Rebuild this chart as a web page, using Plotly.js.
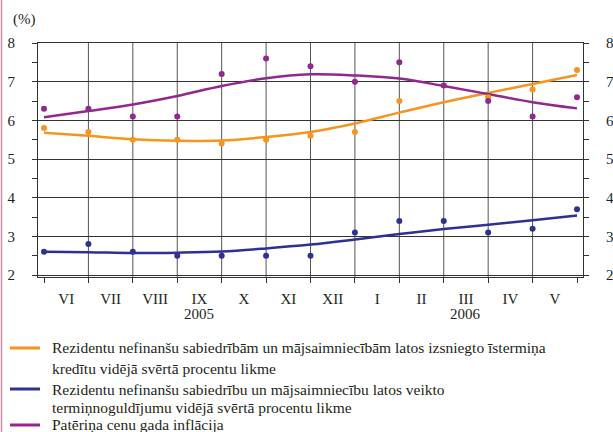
<!DOCTYPE html>
<html>
<head>
<meta charset="utf-8">
<script src="https://cdn.plot.ly/plotly-3.0.1.min.js"></script>
<style>html,body{margin:0;padding:0;background:#fff;}#chart{width:613px;height:432px;}</style>
</head>
<body>
<div id="chart"></div>
<script>
// Month labels (June 2005 – May 2006)
var months = ['VI','VII','VIII','IX','X','XI','XII','I','II','III','IV','V'];
var monthCenters = [0.5,1.5,2.5,3.5,4.5,5.5,6.5,7.5,8.5,9.5,10.5,11.5];
var boundaries = [0,1,2,3,4,5,6,7,8,9,10,11,12];
var innerBoundaries = [1,2,3,4,5,6,7,8,9,10,11];
var years = ['2005','2006'];
var yearCenters = [3.5, 9.5];
var obsX = [0,1,2,3,4,5,6,7,8,9,10,11,12];

// Observed values (%)
var loanRate    = [5.8,5.7,5.5,5.5,5.4,5.5,5.6,5.7,6.5,null,6.6,6.8,7.3];
var depositRate = [2.6,2.8,2.6,2.5,2.5,2.5,2.5,3.1,3.4,3.4,3.1,3.2,3.7];
var inflation   = [6.3,6.3,6.1,6.1,7.2,7.6,7.4,7.0,7.5,6.9,6.5,6.1,6.6];

// Smoothed trends (%)
var loanTrend    = [5.68,5.60,5.51,5.47,5.48,5.57,5.70,5.92,6.20,6.47,6.71,6.94,7.17];
var depositTrend = [2.60,2.59,2.57,2.58,2.61,2.69,2.79,2.92,3.06,3.19,3.30,3.42,3.54];
var inflTrend    = [6.08,6.24,6.41,6.63,6.89,7.09,7.19,7.16,7.08,6.89,6.68,6.47,6.31];

var yTicks = [2,3,4,5,6,7,8];

// Legend texts (each series: list of lines)
var legendLines = [
  ['Rezidentu nefinanšu sabiedrībām un mājsaimniecībām latos izsniegto īstermiņa', 'kredītu vidējā svērtā procentu likme'],
  ['Rezidentu nefinanšu sabiedrību un mājsaimniecību latos veikto', 'termiņnoguldījumu vidējā svērtā procentu likme'],
  ['Patēriņa cenu gada inflācija']
];
var cOrange = '#F7941D', cBlue = '#2E3192', cPurple = '#92278F';
var colors = [cOrange, cBlue, cPurple];
var serif = 'Liberation Serif';

var traces = [
  {x: obsX, y: loanTrend, mode: 'lines', line: {color: cOrange, width: 2.5, shape: 'spline'}, name: legendLines[0].join(' ')},
  {x: obsX, y: depositTrend, mode: 'lines', line: {color: cBlue, width: 2.5, shape: 'spline'}, name: legendLines[1].join(' ')},
  {x: obsX, y: inflTrend, mode: 'lines', line: {color: cPurple, width: 2.5, shape: 'spline'}, name: legendLines[2].join(' ')},
  {x: obsX, y: loanRate, mode: 'markers', marker: {color: cOrange, size: 6}},
  {x: obsX, y: depositRate, mode: 'markers', marker: {color: cBlue, size: 6}},
  {x: obsX, y: inflation, mode: 'markers', marker: {color: cPurple, size: 6}, yaxis: 'y2'}
];

// pixel helpers for the hand-built legend (plot area: x 38..583, y 43..277)
function px2x(p){ return (p - 38) / 545; }
function px2y(p){ return (277 - p) / 234; }

var shapes = innerBoundaries.map(function(b){
  return {type: 'line', xref: 'x', yref: 'paper', x0: b, x1: b, y0: 0, y1: 1,
          line: {color: '#555', width: 1}, layer: 'below'};
});
shapes.push({type: 'line', xref: 'paper', yref: 'paper', x0: px2x(1.5), x1: px2x(1.5), y0: -0.7, y1: 1.2,
             line: {color: '#cc8ea4', width: 1.5}});

var annotations = years.map(function(t, i){
  return {text: t, x: yearCenters[i], xref: 'x', y: px2y(314), yref: 'paper', yanchor: 'middle',
          showarrow: false, font: {family: serif, size: 15, color: '#231f20'}};
});
annotations.push({text: '(%)', x: px2x(11), xref: 'paper', xanchor: 'left', y: px2y(20), yref: 'paper',
                  yanchor: 'middle', showarrow: false, font: {family: serif, size: 15, color: '#231f20'}});

// legend: line symbols + text rows
var rowY = [[348, 368], [389, 408], [425]];
legendLines.forEach(function(lines, k){
  shapes.push({type: 'line', xref: 'paper', yref: 'paper', x0: px2x(10), x1: px2x(40),
               y0: px2y(rowY[k][0]), y1: px2y(rowY[k][0]), line: {color: colors[k], width: 3}});
  lines.forEach(function(txt, j){
    annotations.push({text: txt, x: px2x(50), xref: 'paper', xanchor: 'left', y: px2y(rowY[k][j]),
                      yref: 'paper', yanchor: 'middle', showarrow: false,
                      font: {family: serif, size: 15.5, color: '#231f20'}});
  });
});

var yCommon = {
  range: [1.95, 8], tickvals: yTicks, ticktext: yTicks.map(String),
  ticks: 'outside', ticklen: 5, tickcolor: '#333', tickwidth: 1,
  minor: {dtick: 0.5, tick0: 0, ticks: 'outside', ticklen: 5, tickcolor: '#333', showgrid: false},
  showline: true, linecolor: '#333', linewidth: 1, zeroline: false, automargin: false,
  tickfont: {family: serif, size: 15, color: '#231f20'}, ticklabelstandoff: 14
};

var layout = {
  width: 613, height: 432,
  margin: {l: 38, r: 30, t: 43, b: 155, autoexpand: false},
  paper_bgcolor: '#fff', plot_bgcolor: '#fff',
  showlegend: false,
  xaxis: {
    range: [-0.135, 12.135], tickmode: 'array', tickvals: monthCenters, ticktext: months,
    ticks: '', showgrid: false, zeroline: false, automargin: false,
    minor: {tickmode: 'array', tickvals: boundaries, ticks: 'outside', ticklen: 5, tickcolor: '#333', showgrid: false},
    showline: true, mirror: true, linecolor: '#333', linewidth: 1,
    tickfont: {family: serif, size: 15, color: '#231f20'}, ticklabelstandoff: 8
  },
  yaxis: Object.assign({}, yCommon, {showgrid: true, gridcolor: '#333', gridwidth: 1}),
  yaxis2: Object.assign({}, yCommon, {overlaying: 'y', side: 'right', showgrid: false}),
  shapes: shapes,
  annotations: annotations
};

Plotly.newPlot('chart', traces, layout, {displayModeBar: false, staticPlot: true});
</script>
</body>
</html>
